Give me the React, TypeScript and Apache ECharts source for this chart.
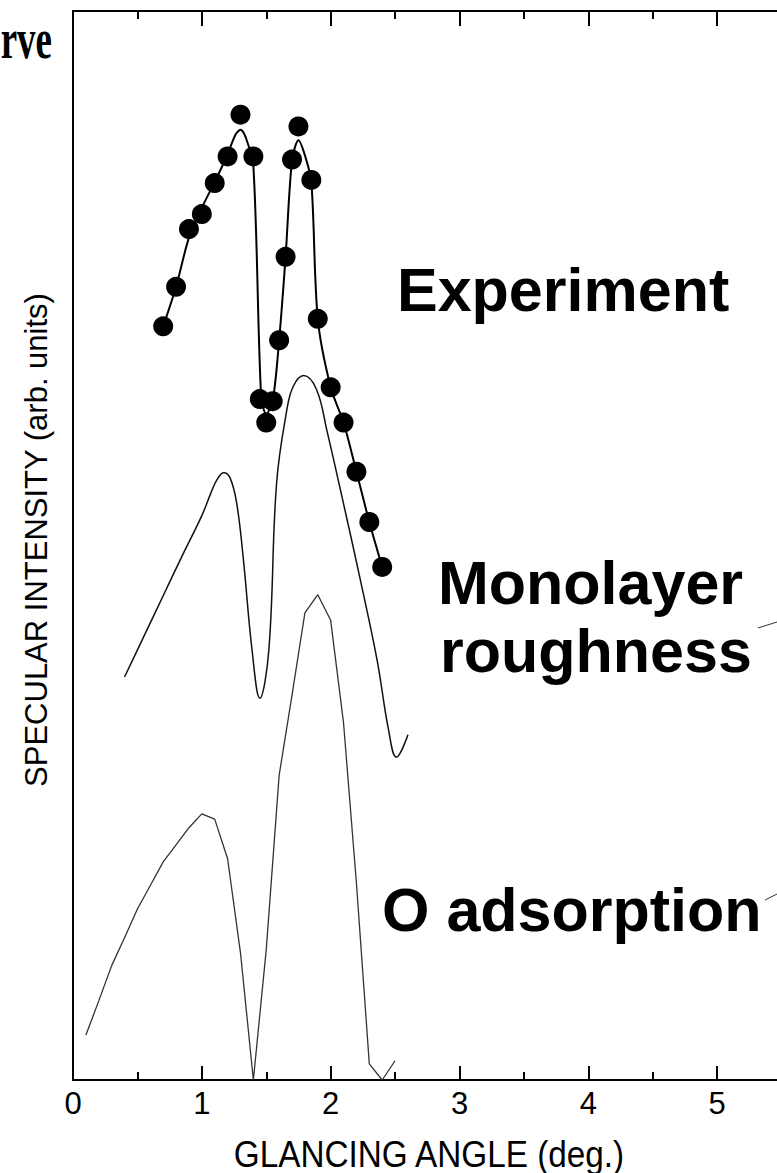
import React, { useEffect, useRef } from "react";
import * as echarts from "echarts";

// x tick labels (axis runs to 6, past the visible edge)
const xTickLabels = ["0", "1", "2", "3", "4", "5"];

// Experiment (dots)
const expX = [0.7, 0.8, 0.9, 1.0, 1.1, 1.2, 1.3, 1.4, 1.45, 1.5, 1.55, 1.6, 1.65, 1.7, 1.75, 1.85, 1.9, 2.0, 2.1, 2.2, 2.3, 2.4];
const expY = [70.5, 74.2, 79.6, 81.0, 83.9, 86.4, 90.3, 86.4, 63.7, 61.5, 63.5, 69.2, 77.0, 86.1, 89.2, 84.2, 71.2, 64.8, 61.5, 56.9, 52.2, 48.0];

// Experiment guide line
const fitX = [0.7, 0.8, 0.9, 1.0, 1.1, 1.2, 1.26, 1.3, 1.34, 1.4, 1.46, 1.5, 1.55, 1.6, 1.65, 1.7, 1.75, 1.8, 1.85, 1.9, 2.0, 2.1, 2.2, 2.3, 2.4];
const fitY = [70.5, 74.2, 78.8, 81.6, 84.0, 86.6, 88.4, 88.9, 88.2, 85.5, 64.0, 62.3, 63.5, 69.2, 77.0, 86.0, 87.9, 86.5, 84.0, 71.2, 64.8, 61.5, 56.9, 52.2, 48.0];

// Monolayer roughness
const monoX = [0.4, 0.55, 0.7, 0.85, 1.0, 1.07, 1.12, 1.17, 1.22, 1.27, 1.32, 1.39, 1.45, 1.52, 1.58, 1.66, 1.71, 1.79, 1.89, 1.97, 2.1, 2.23, 2.36, 2.45, 2.51, 2.6];
const monoY = [37.7, 41.5, 45.3, 49.1, 52.8, 54.9, 56.2, 56.8, 56.3, 54.0, 49.0, 40.2, 35.7, 40.2, 55.8, 62.7, 64.9, 65.9, 64.6, 60.8, 53.9, 46.8, 39.3, 32.7, 30.2, 32.3];

// O adsorption
const oX = [0.1, 0.2, 0.3, 0.4, 0.5, 0.6, 0.7, 0.8, 0.9, 1.0, 1.1, 1.2, 1.3, 1.4, 1.5, 1.6, 1.7, 1.8, 1.9, 2.0, 2.1, 2.2, 2.3, 2.4, 2.5];
const oY = [4.2, 7.4, 10.7, 13.3, 16.0, 18.2, 20.4, 22.0, 23.6, 24.9, 24.4, 20.7, 11.9, 0, 12.2, 28.5, 36.0, 43.7, 45.4, 43.0, 33.4, 18.4, 1.5, 0, 1.8];

const zip = (xs: number[], ys: number[]) => xs.map((x, i) => [x, ys[i]]);

const SANS = '"Liberation Sans", Arial, sans-serif';

export default function App() {
  const ref = useRef<HTMLDivElement>(null);
  useEffect(() => {
    const chart = echarts.init(ref.current!, null, { renderer: "svg" });
    const axisCommon = {
      type: "value",
      min: 0,
      max: 6,
      interval: 1,
      axisLine: { show: true, onZero: false, lineStyle: { color: "#000", width: 2 } },
      axisTick: { show: true, inside: true, length: 14, lineStyle: { color: "#000", width: 2 } },
      minorTick: { show: true, splitNumber: 2, length: 8, lineStyle: { color: "#000", width: 2 } },
      splitLine: { show: false },
      minorSplitLine: { show: false },
    };
    chart.setOption({
      animation: false,
      backgroundColor: "#fff",
      grid: { left: 73, right: 4, top: 11, bottom: 93 },
      xAxis: [
        {
          ...axisCommon,
          position: "bottom",
          axisLabel: {
            show: true,
            margin: 8,
            color: "#000",
            fontSize: 31,
            fontFamily: SANS,
            formatter: (v: number) => xTickLabels[Math.round(v)] ?? "",
          },
        },
        {
          ...axisCommon,
          position: "top",
          axisTick: { ...axisCommon.axisTick, length: 15 },
          axisLabel: { show: false },
        },
      ],
      yAxis: {
        type: "value",
        min: 0,
        max: 100,
        axisLine: { show: true, onZero: false, lineStyle: { color: "#000", width: 2 } },
        axisTick: { show: false },
        axisLabel: { show: false },
        splitLine: { show: false },
      },
      series: [
        {
          type: "line",
          data: zip(oX, oY),
          showSymbol: false,
          lineStyle: { color: "#333", width: 1.3 },
        },
        {
          type: "line",
          data: zip(monoX, monoY),
          smooth: 0.4,
          showSymbol: false,
          lineStyle: { color: "#111", width: 1.5 },
        },
        {
          type: "line",
          data: zip(fitX, fitY),
          smooth: 0.3,
          showSymbol: false,
          lineStyle: { color: "#000", width: 2 },
        },
        {
          type: "scatter",
          data: zip(expX, expY),
          symbol: "circle",
          symbolSize: 20,
          itemStyle: { color: "#000", opacity: 1 },
        },
      ],
      graphic: [
        {
          type: "text",
          x: 52,
          y: 39,
          scaleX: 0.66,
          style: {
            text: "rve",
            x: 0,
            y: 0,
            align: "right",
            verticalAlign: "middle",
            font: 'bold 56px "Liberation Serif", "Times New Roman", serif',
            fill: "#000",
          },
        },
        {
          type: "text",
          x: 397,
          y: 290,
          style: { text: "Experiment", align: "left", verticalAlign: "middle", font: `bold 61px ${SANS}`, fill: "#000" },
        },
        {
          type: "text",
          x: 438,
          y: 583,
          style: { text: "Monolayer", align: "left", verticalAlign: "middle", font: `bold 61px ${SANS}`, fill: "#000" },
        },
        {
          type: "text",
          x: 440,
          y: 651,
          style: { text: "roughness", align: "left", verticalAlign: "middle", font: `bold 61px ${SANS}`, fill: "#000" },
        },
        {
          type: "text",
          x: 382,
          y: 910,
          style: { text: "O adsorption", align: "left", verticalAlign: "middle", font: `bold 61px ${SANS}`, fill: "#000" },
        },
        {
          type: "line",
          shape: { x1: 758, y1: 628, x2: 777, y2: 622 },
          style: { stroke: "#333", lineWidth: 1 },
        },
        {
          type: "line",
          shape: { x1: 765, y1: 900, x2: 777, y2: 894 },
          style: { stroke: "#333", lineWidth: 1 },
        },
        {
          type: "text",
          x: 429,
          y: 1154,
          scaleX: 0.9,
          style: {
            text: "GLANCING ANGLE (deg.)",
            x: 0,
            y: 0,
            align: "center",
            verticalAlign: "middle",
            font: `37px ${SANS}`,
            fill: "#000",
          },
        },
        {
          type: "text",
          x: 36,
          y: 540,
          rotation: Math.PI / 2,
          style: {
            text: "SPECULAR INTENSITY (arb. units)",
            x: 0,
            y: 0,
            align: "center",
            verticalAlign: "middle",
            font: `31px ${SANS}`,
            fill: "#000",
          },
        },
      ],
    });
    return () => chart.dispose();
  }, []);
  return (
    <div style={{ position: "absolute", left: 0, top: 0, width: 777, height: 1173, overflow: "hidden", background: "#fff" }}>
      <div ref={ref} style={{ width: 850, height: 1173 }} />
    </div>
  );
}
